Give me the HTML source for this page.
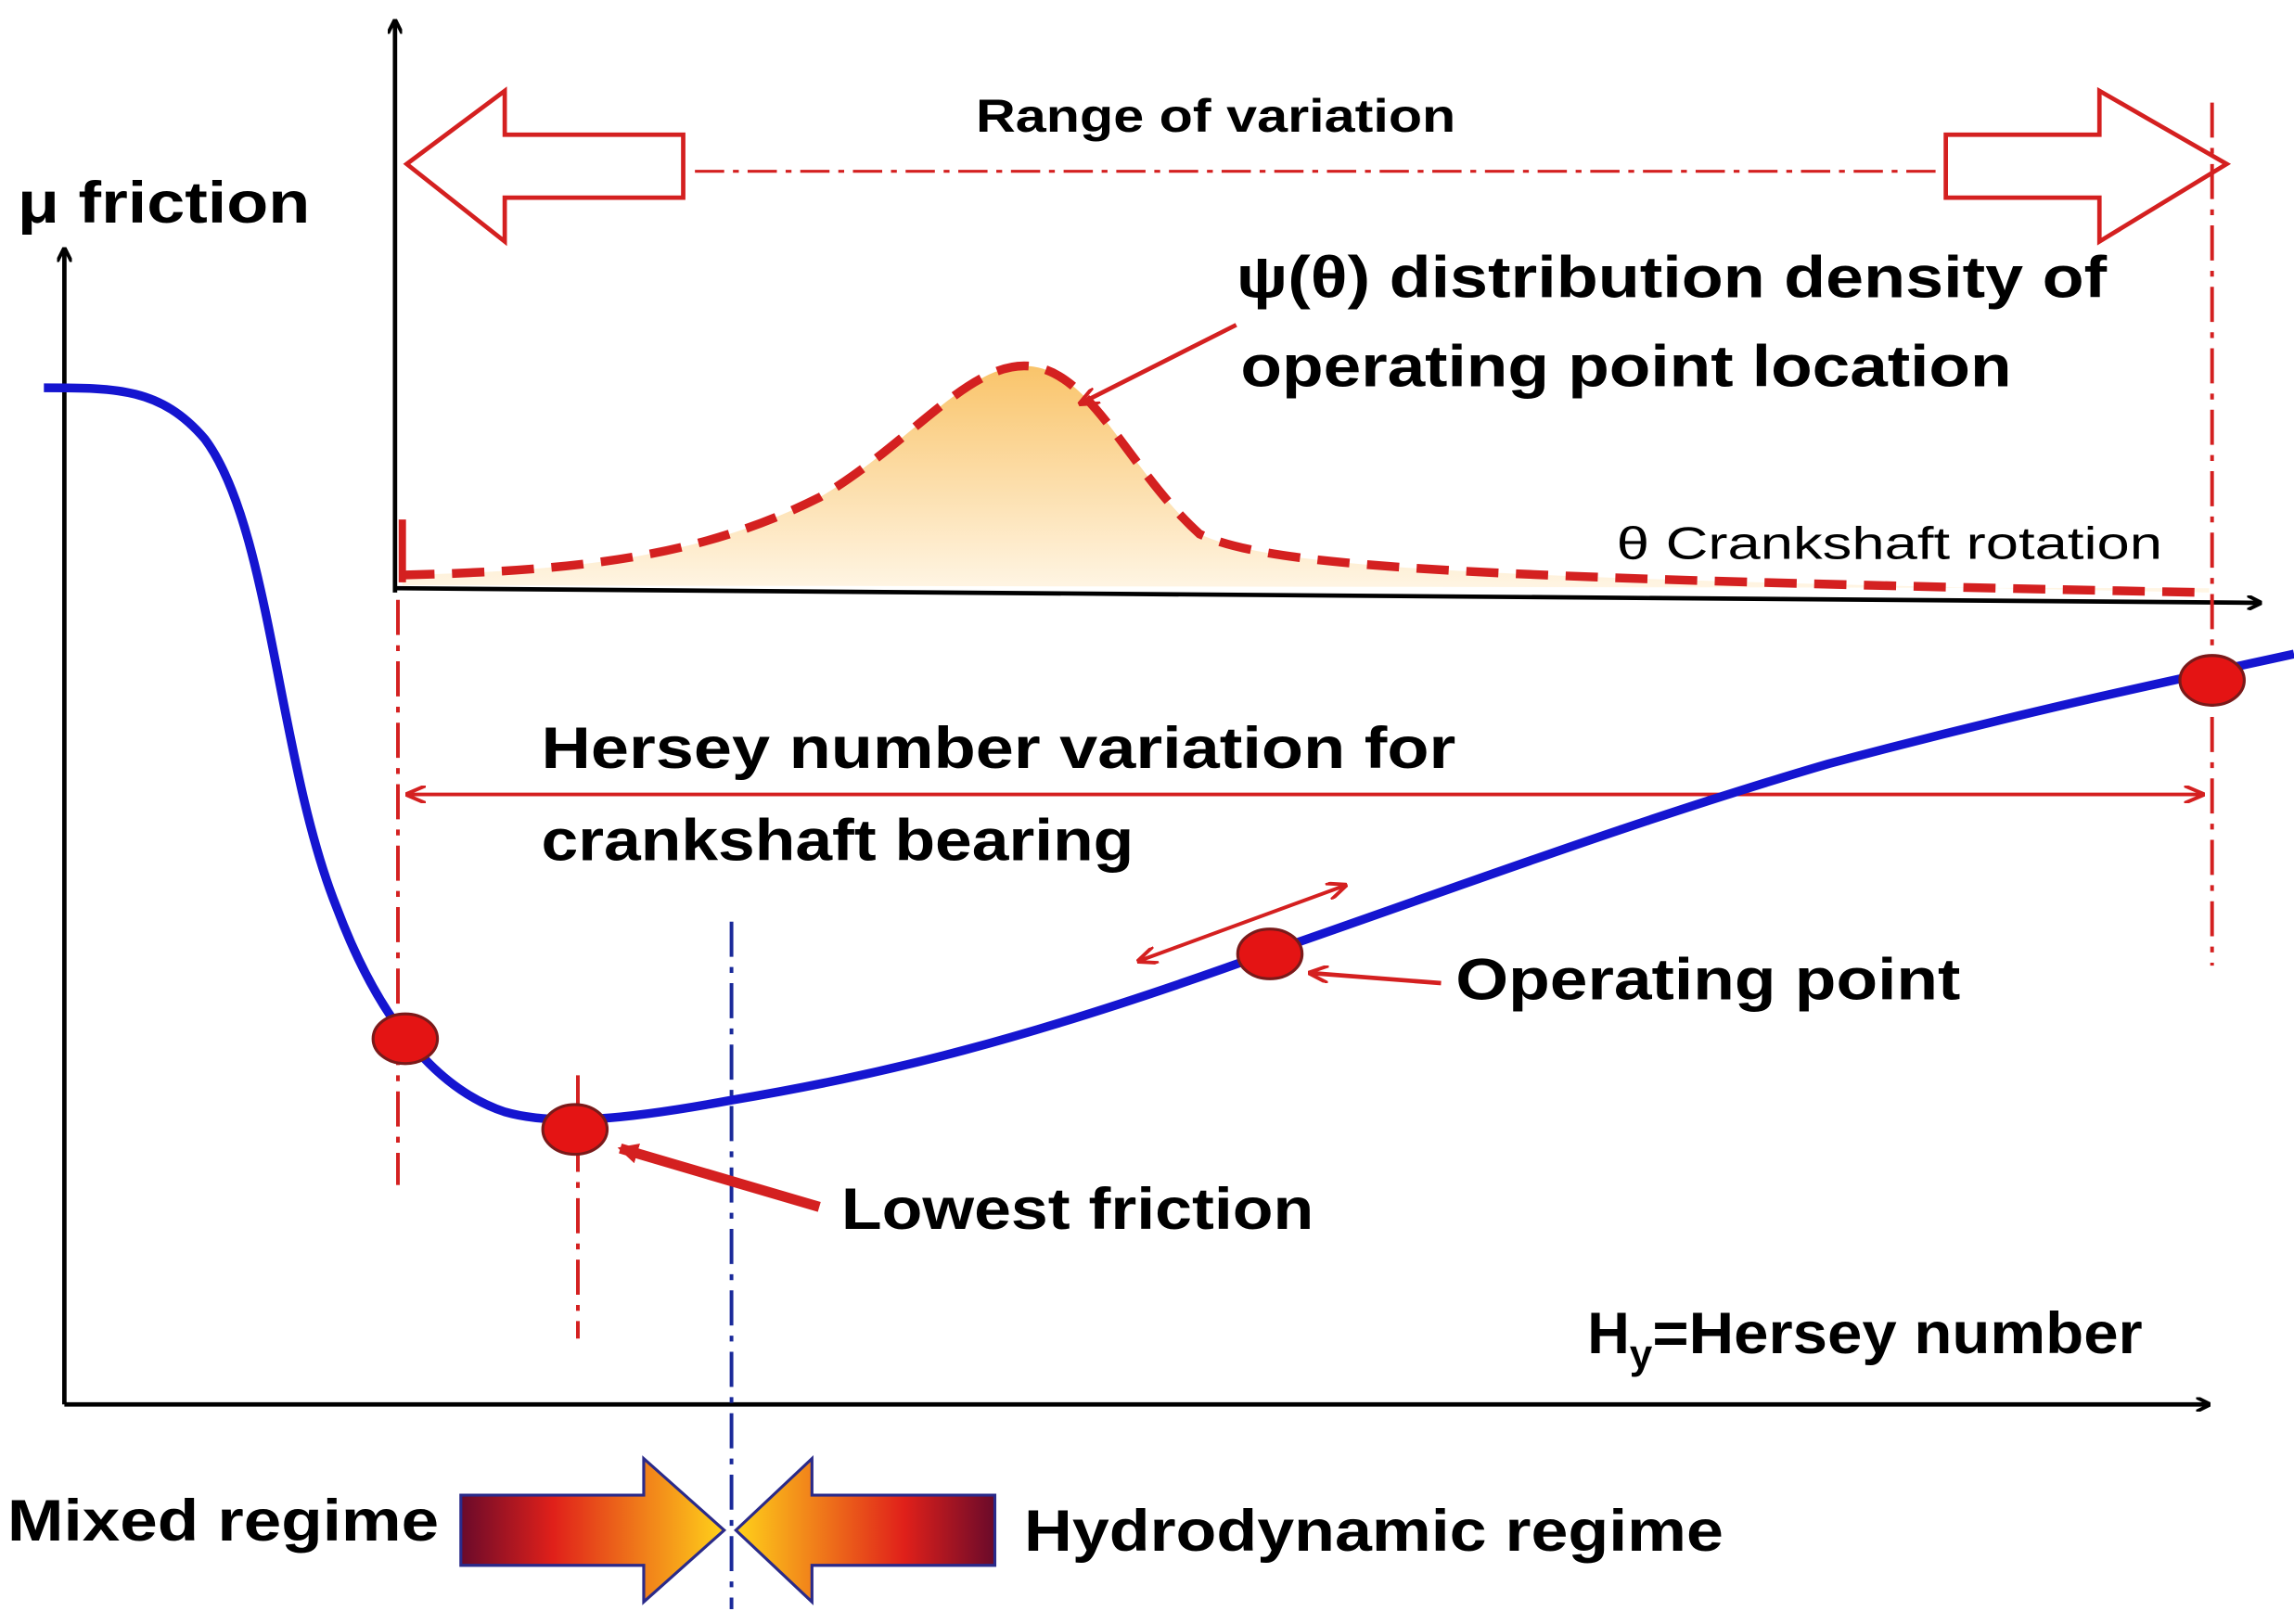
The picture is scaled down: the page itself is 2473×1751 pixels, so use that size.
<!DOCTYPE html>
<html><head><meta charset="utf-8"><style>html,body{margin:0;padding:0;background:#fff}svg{display:block}</style></head>
<body>
<svg width="2473" height="1751" viewBox="0 0 1568 1110" xmlns="http://www.w3.org/2000/svg" font-family="Liberation Sans, sans-serif">
<defs>
<linearGradient id="fill" x1="0" y1="0" x2="0" y2="1"><stop offset="0" stop-color="#f9c46a"/><stop offset="1" stop-color="#fff6e6"/></linearGradient>
<linearGradient id="gl" x1="0" y1="0" x2="1" y2="0"><stop offset="0" stop-color="#6a0a2a"/><stop offset="0.35" stop-color="#e0201a"/><stop offset="1" stop-color="#ffd21a"/></linearGradient>
<linearGradient id="gr" x1="1" y1="0" x2="0" y2="0"><stop offset="0" stop-color="#6a0a2a"/><stop offset="0.35" stop-color="#e0201a"/><stop offset="1" stop-color="#ffd21a"/></linearGradient>
<marker id="ah" markerWidth="10" markerHeight="10" refX="9" refY="5" orient="auto" markerUnits="userSpaceOnUse"><path d="M0,0 L10,5 L0,10" fill="none" stroke="#000" stroke-width="2.5"/></marker>
<marker id="rh" markerWidth="14" markerHeight="12" refX="13" refY="6" orient="auto" markerUnits="userSpaceOnUse"><path d="M0,0 L14,6 L0,12" fill="none" stroke="#d42020" stroke-width="2.5"/></marker>
<marker id="rs" markerWidth="14" markerHeight="12" refX="1" refY="6" orient="auto" markerUnits="userSpaceOnUse"><path d="M14,0 L0,6 L14,12" fill="none" stroke="#d42020" stroke-width="2.5"/></marker>
<marker id="rf" markerWidth="14" markerHeight="14" refX="12" refY="7" orient="auto" markerUnits="userSpaceOnUse"><path d="M0,0 L14,7 L0,14 Z" fill="#d42020"/></marker>
</defs>
<g lengthAdjust="spacingAndGlyphs">
<line x1="44" y1="960" x2="44" y2="170" stroke="#000" stroke-width="3" marker-end="url(#ah)"/>
<line x1="44" y1="960" x2="1510" y2="960" stroke="#000" stroke-width="3" marker-end="url(#ah)"/>
<text x="12" y="152" font-size="40" font-weight="bold" textLength="200" lengthAdjust="spacingAndGlyphs">μ friction</text>
<path d="M275,393 C400,390 480,380 560,340 C620,305 660,250 700,250 C745,250 770,320 820,365 C870,388 1000,395 1510,405 L1510,402 L275,400 Z" fill="url(#fill)"/>
<path d="M275,393 C400,390 480,380 560,340 C620,305 660,250 700,250 C745,250 770,320 820,365 C870,388 1000,395 1510,405" fill="none" stroke="#d42020" stroke-width="6" stroke-dasharray="22,12"/>
<line x1="275" y1="355" x2="275" y2="398" stroke="#d42020" stroke-width="5"/>
<line x1="270" y1="405" x2="270" y2="14" stroke="#000" stroke-width="3" marker-end="url(#ah)"/>
<line x1="270" y1="402" x2="1545" y2="412" stroke="#000" stroke-width="3" marker-end="url(#ah)"/>
<text x="1105" y="382" font-size="31" textLength="373" lengthAdjust="spacingAndGlyphs">θ Crankshaft rotation</text>
<text x="845" y="203" font-size="40" font-weight="bold" textLength="595" lengthAdjust="spacingAndGlyphs">ψ(θ) distribution density of</text>
<text x="848" y="264" font-size="40" font-weight="bold" textLength="527" lengthAdjust="spacingAndGlyphs">operating point location</text>
<line x1="845" y1="222" x2="738" y2="276" stroke="#d42020" stroke-width="3" marker-end="url(#rh)"/>
<text x="667" y="90" font-size="32" font-weight="bold" textLength="328" lengthAdjust="spacingAndGlyphs">Range of variation</text>
<path d="M278,112 L345,62 L345,92 L467,92 L467,135 L345,135 L345,165 Z" fill="#fff" stroke="#d42020" stroke-width="3"/>
<path d="M1522,112 L1435,62 L1435,92 L1330,92 L1330,135 L1435,135 L1435,165 Z" fill="#fff" stroke="#d42020" stroke-width="3"/>
<line x1="475" y1="117" x2="1325" y2="117" stroke="#d42020" stroke-width="2" stroke-dasharray="20,6,4,6"/>
<g stroke="#d42020" stroke-width="2.5" stroke-dasharray="24,7,4,7" fill="none">
<line x1="272" y1="410" x2="272" y2="810"/>
<line x1="395" y1="735" x2="395" y2="915"/>
<line x1="1512" y1="70" x2="1512" y2="660"/>
</g>
<line x1="500" y1="630" x2="500" y2="1100" stroke="#1a2a9a" stroke-width="2.5" stroke-dasharray="24,7,4,7"/>
<line x1="278" y1="543" x2="1506" y2="543" stroke="#d42020" stroke-width="2.5" marker-start="url(#rs)" marker-end="url(#rh)"/>
<text x="370" y="525" font-size="40" font-weight="bold" textLength="625" lengthAdjust="spacingAndGlyphs">Hersey number variation  for</text>
<text x="370" y="588" font-size="40" font-weight="bold" textLength="405" lengthAdjust="spacingAndGlyphs">crankshaft bearing</text>
<path d="M30,265 C80,265 110,265 140,300 C185,360 190,520 230,620 C260,700 300,745 345,760 C380,770 430,765 500,752 C600,735 700,712 870,650 C1000,605 1120,560 1250,522 C1400,482 1500,462 1568,447" fill="none" stroke="#1515d0" stroke-width="6"/>
<g fill="#e41414" stroke="#7a1a1a" stroke-width="2">
<ellipse cx="277" cy="710" rx="22" ry="17"/>
<ellipse cx="393" cy="772" rx="22" ry="17"/>
<ellipse cx="868" cy="652" rx="22" ry="17"/>
<ellipse cx="1512" cy="465" rx="22" ry="17"/>
</g>
<line x1="778" y1="657" x2="920" y2="605" stroke="#d42020" stroke-width="2.5" marker-start="url(#rs)" marker-end="url(#rh)"/>
<line x1="985" y1="672" x2="895" y2="665" stroke="#d42020" stroke-width="3" marker-end="url(#rh)"/>
<text x="995" y="683" font-size="40" font-weight="bold" textLength="345" lengthAdjust="spacingAndGlyphs">Operating point</text>
<line x1="560" y1="825" x2="424" y2="785" stroke="#d42020" stroke-width="7" marker-end="url(#rf)"/>
<text x="575" y="840" font-size="40" font-weight="bold" textLength="323" lengthAdjust="spacingAndGlyphs">Lowest friction</text>
<text x="1085" y="925" font-size="40" font-weight="bold">H<tspan font-size="28" dy="10">y</tspan><tspan dy="-10" textLength="335" lengthAdjust="spacingAndGlyphs">=Hersey number</tspan></text>
<text x="5" y="1053" font-size="40" font-weight="bold" textLength="295" lengthAdjust="spacingAndGlyphs">Mixed regime</text>
<path d="M315,1022 L440,1022 L440,997 L495,1046 L440,1095 L440,1070 L315,1070 Z" fill="url(#gl)" stroke="#2a2a8a" stroke-width="2"/>
<path d="M680,1022 L555,1022 L555,997 L503,1046 L555,1095 L555,1070 L680,1070 Z" fill="url(#gr)" stroke="#2a2a8a" stroke-width="2"/>
<text x="700" y="1060" font-size="40" font-weight="bold" textLength="478" lengthAdjust="spacingAndGlyphs">Hydrodynamic regime</text>
</g>
</svg>
</body></html>
